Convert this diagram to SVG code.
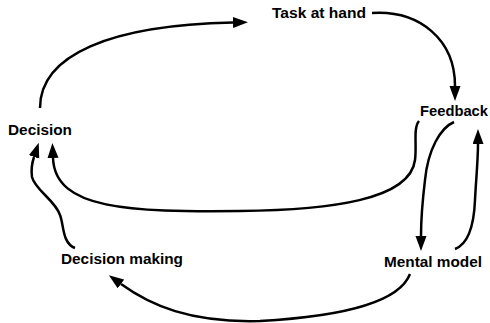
<svg xmlns="http://www.w3.org/2000/svg" width="490" height="323" viewBox="0 0 490 323">
<defs>
<marker id="ah" markerUnits="userSpaceOnUse" markerWidth="16" markerHeight="12" refX="0" refY="5.5" orient="auto">
<path d="M0,0 L15,5.5 L0,11 Z" fill="#000"/>
</marker>
<style>
.lbl{font-family:"Liberation Sans",Arial,sans-serif;font-weight:bold;font-size:14px;fill:#000}
.edge{fill:none;stroke:#000;stroke-width:2.5;marker-end:url(#ah)}
</style>
</defs>
<rect width="490" height="323" fill="#fff"/>
<g id="connectors">
<path class="edge" d="M40,108 C40,55 110,25 233,22.5"/>
<path class="edge" d="M372,13 C420,10 455,40 455,86"/>
<path class="edge" d="M419,121 C413,128 417,145 415,160 C410,200 330,210 240,211 C130,212 55,210 53,158"/>
<path class="edge" d="M75,248 C62,243 64,225 60,215 C55,200 35,190 32,177 C31,170 32,163 34,157"/>
<path class="edge" d="M454,122 C440,128 428,150 425,180 C422,205 421,220 421,236"/>
<path class="edge" d="M455,249 C468,244 474,225 475,200 C476,180 478,160 478,144"/>
<path class="edge" d="M410,274 C400,300 350,316 260,321 C190,323 150,305 121,284"/>
</g>
<g id="task"><text class="lbl" x="272" y="18" textLength="94" lengthAdjust="spacingAndGlyphs">Task at hand</text></g>
<g id="decision"><text class="lbl" x="8" y="135" textLength="64" lengthAdjust="spacingAndGlyphs">Decision</text></g>
<g id="feedback"><text class="lbl" x="420" y="116" textLength="68" lengthAdjust="spacingAndGlyphs">Feedback</text></g>
<g id="decision-making"><text class="lbl" x="61" y="264" textLength="122" lengthAdjust="spacingAndGlyphs">Decision making</text></g>
<g id="mental-model"><text class="lbl" x="384" y="267" textLength="98" lengthAdjust="spacingAndGlyphs">Mental model</text></g>
</svg>
